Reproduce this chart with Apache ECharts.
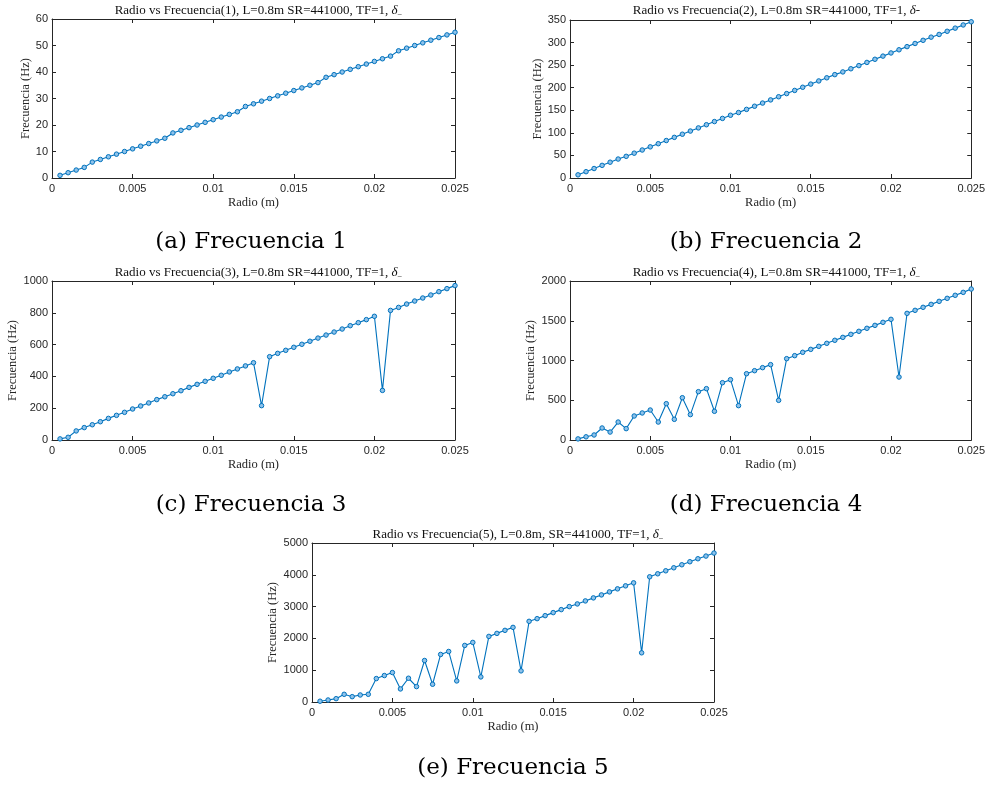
<!DOCTYPE html>
<html>
<head>
<meta charset="utf-8">
<script src="https://cdn.jsdelivr.net/npm/echarts@6/dist/echarts.min.js"></script>
<style>
  html, body { margin: 0; padding: 0; background: #fff; }
  #chart { width: 988px; height: 789px; }
</style>
</head>
<body>
<div id="chart"></div>
<script>
// Radius of the string (m), sampled every 0.5 mm
const radio = [
  0.0005, 0.001, 0.0015, 0.002, 0.0025, 0.003, 0.0035, 0.004, 0.0045, 0.005,
  0.0055, 0.006, 0.0065, 0.007, 0.0075, 0.008, 0.0085, 0.009, 0.0095, 0.01,
  0.0105, 0.011, 0.0115, 0.012, 0.0125, 0.013, 0.0135, 0.014, 0.0145, 0.015,
  0.0155, 0.016, 0.0165, 0.017, 0.0175, 0.018, 0.0185, 0.019, 0.0195, 0.02,
  0.0205, 0.021, 0.0215, 0.022, 0.0225, 0.023, 0.0235, 0.024, 0.0245, 0.025
];

// Detected frequencies (Hz) for each mode
const frec1 = [
  1, 2, 3, 4, 6, 7, 8, 9, 10, 11,
  12, 13, 14, 15, 17, 18, 19, 20, 21, 22,
  23, 24, 25, 27, 28, 29, 30, 31, 32, 33,
  34, 35, 36, 38, 39, 40, 41, 42, 43, 44,
  45, 46, 48, 49, 50, 51, 52, 53, 54, 55
];
const frec2 = [
  7, 14, 21, 28, 35, 42, 48, 55, 62, 69,
  76, 83, 90, 97, 104, 111, 118, 125, 132, 139,
  145, 152, 159, 166, 173, 180, 187, 194, 201, 208,
  215, 222, 229, 235, 242, 249, 256, 263, 270, 277,
  284, 291, 298, 305, 312, 318, 325, 332, 339, 346
];
const frec3 = [
  7, 17, 57, 78, 96, 115, 136, 155, 174, 195,
  214, 233, 254, 272, 291, 310, 331, 350, 369, 388,
  407, 428, 447, 466, 486, 216, 524, 545, 564, 583,
  602, 621, 641, 660, 679, 698, 719, 738, 757, 778,
  312, 815, 834, 855, 874, 893, 912, 933, 952, 971
];
const frec4 = [
  14, 40, 63, 151, 100, 226, 143, 302, 340, 377,
  226, 457, 260, 532, 319, 608, 646, 361, 721, 759,
  432, 834, 872, 910, 948, 499, 1023, 1061, 1103, 1140,
  1178, 1216, 1254, 1291, 1329, 1367, 1405, 1442, 1480, 1518,
  792, 1593, 1631, 1669, 1706, 1744, 1782, 1820, 1857, 1899
];
const frec5 = [
  25, 63, 105, 242, 168, 221, 242, 737, 832, 926,
  411, 747, 484, 1305, 558, 1495, 1589, 663, 1779, 1874,
  789, 2063, 2158, 2253, 2347, 979, 2537, 2621, 2716, 2811,
  2905, 3000, 3084, 3179, 3274, 3368, 3463, 3558, 3653, 3747,
  1547, 3937, 4032, 4126, 4221, 4316, 4411, 4505, 4589, 4684
];

const titulos = [
  'Radio vs Frecuencia(1), L=0.8m SR=441000, TF=1, ',
  'Radio vs Frecuencia(2), L=0.8m SR=441000, TF=1, ',
  'Radio vs Frecuencia(3), L=0.8m SR=441000, TF=1, ',
  'Radio vs Frecuencia(4), L=0.8m SR=441000, TF=1, ',
  'Radio vs Frecuencia(5), L=0.8m, SR=441000, TF=1, '
];
const subindice = [true, false, true, true, true];
const leyendas = [
  '(a) Frecuencia 1', '(b) Frecuencia 2', '(c) Frecuencia 3',
  '(d) Frecuencia 4', '(e) Frecuencia 5'
];
const yMax = [60, 350, 1000, 2000, 5000];
const yStep = [10, 50, 200, 500, 1000];
const xTicks = [0, 0.005, 0.01, 0.015, 0.02, 0.025];
const xLabels = ['0', '0.005', '0.01', '0.015', '0.02', '0.025'];

const series = [frec1, frec2, frec3, frec4, frec5];

// Panel layout
const grids = [
  { left: 52, top: 19, width: 403, height: 159, yNameGap: 15 },
  { left: 570, top: 20, width: 403, height: 158, yNameGap: 21 },
  { left: 52, top: 281, width: 403, height: 159, yNameGap: 25 },
  { left: 570, top: 281, width: 403, height: 159, yNameGap: 25 },
  { left: 312, top: 543, width: 402, height: 159, yNameGap: 24 }
];
const captionPos = [
  [251, 242], [766, 242], [251, 505], [766, 505], [513, 768]
];

const AX = '#262626';
const SERIF = '"Liberation Serif", "DejaVu Serif", serif';
const CAPTION_FONT = '"DejaVu Serif", "Liberation Serif", serif';
const SANS = '"Liberation Sans", Arial, sans-serif';

const option = {
  animation: false,
  backgroundColor: '#fff',
  title: [],
  grid: [],
  xAxis: [],
  yAxis: [],
  series: [],
  graphic: []
};

function xLabel(v) {
  const i = xTicks.findIndex(t => Math.abs(t - v) < 1e-9);
  return i >= 0 ? xLabels[i] : '';
}

grids.forEach((g, i) => {
  option.grid.push({ left: g.left, top: g.top, width: g.width, height: g.height, containLabel: false });

  const axisLine = { show: true, onZero: false, lineStyle: { color: AX, width: 1 } };
  const axisTick = { show: true, inside: true, length: 4, lineStyle: { color: AX, width: 1 } };

  // bottom and top x axes (box frame)
  option.xAxis.push({
    type: 'value', gridIndex: i, position: 'bottom', min: 0, max: 0.025, interval: 0.005,
    axisLine, axisTick, splitLine: { show: false },
    axisLabel: { color: AX, fontFamily: SANS, fontSize: 11, margin: 5, formatter: xLabel },
    name: 'Radio (m)', nameLocation: 'middle', nameGap: 18,
    nameTextStyle: { color: AX, fontFamily: SERIF, fontSize: 12.5 }
  });
  option.xAxis.push({
    type: 'value', gridIndex: i, position: 'top', min: 0, max: 0.025, interval: 0.005,
    axisLine, axisTick, splitLine: { show: false }, axisLabel: { show: false }
  });

  // left and right y axes
  option.yAxis.push({
    type: 'value', gridIndex: i, position: 'left', min: 0, max: yMax[i], interval: yStep[i],
    axisLine, axisTick, splitLine: { show: false },
    axisLabel: { color: AX, fontFamily: SANS, fontSize: 11, margin: 4, formatter: v => String(v) },
    name: 'Frecuencia (Hz)', nameLocation: 'middle', nameGap: g.yNameGap,
    nameTextStyle: { color: AX, fontFamily: SERIF, fontSize: 12.5 }
  });
  option.yAxis.push({
    type: 'value', gridIndex: i, position: 'right', min: 0, max: yMax[i], interval: yStep[i],
    axisLine, axisTick, splitLine: { show: false }, axisLabel: { show: false }
  });

  option.series.push({
    type: 'line',
    xAxisIndex: i * 2,
    yAxisIndex: i * 2,
    data: radio.map((r, k) => [r, series[i][k]]),
    symbol: 'circle',
    symbolSize: 4.5,
    showSymbol: true,
    lineStyle: { color: '#0072BD', width: 1.1 },
    itemStyle: { color: '#8fc2ea', borderColor: '#0072BD', borderWidth: 1 },
    z: 3
  });

  // panel title with the delta symbol
  option.title.push({
    text: subindice[i]
      ? '{t|' + titulos[i] + '}{d|δ}{s|−}'
      : '{t|' + titulos[i] + '}{d|δ}{t|-}',
    left: g.left + g.width / 2,
    top: g.top - 21,
    textAlign: 'center',
    textStyle: {
      fontWeight: 'normal',
      rich: {
        t: { fontFamily: SERIF, fontSize: 13, color: '#111', fontWeight: 'normal' },
        d: { fontFamily: SERIF, fontSize: 13, color: '#111', fontStyle: 'italic', fontWeight: 'normal' },
        s: { fontFamily: SERIF, fontSize: 8.5, color: '#111', fontWeight: 'normal', verticalAlign: 'bottom', padding: [7, 0, 0, 0] }
      }
    }
  });

  // subfigure caption
  option.graphic.push({
    type: 'text',
    x: captionPos[i][0],
    y: captionPos[i][1],
    style: {
      text: leyendas[i],
      fill: '#000',
      font: '23px ' + CAPTION_FONT,
      textAlign: 'center',
      textVerticalAlign: 'middle'
    }
  });
});

const chart = echarts.init(document.getElementById('chart'), null, { renderer: 'canvas' });
chart.setOption(option);
</script>
</body>
</html>
